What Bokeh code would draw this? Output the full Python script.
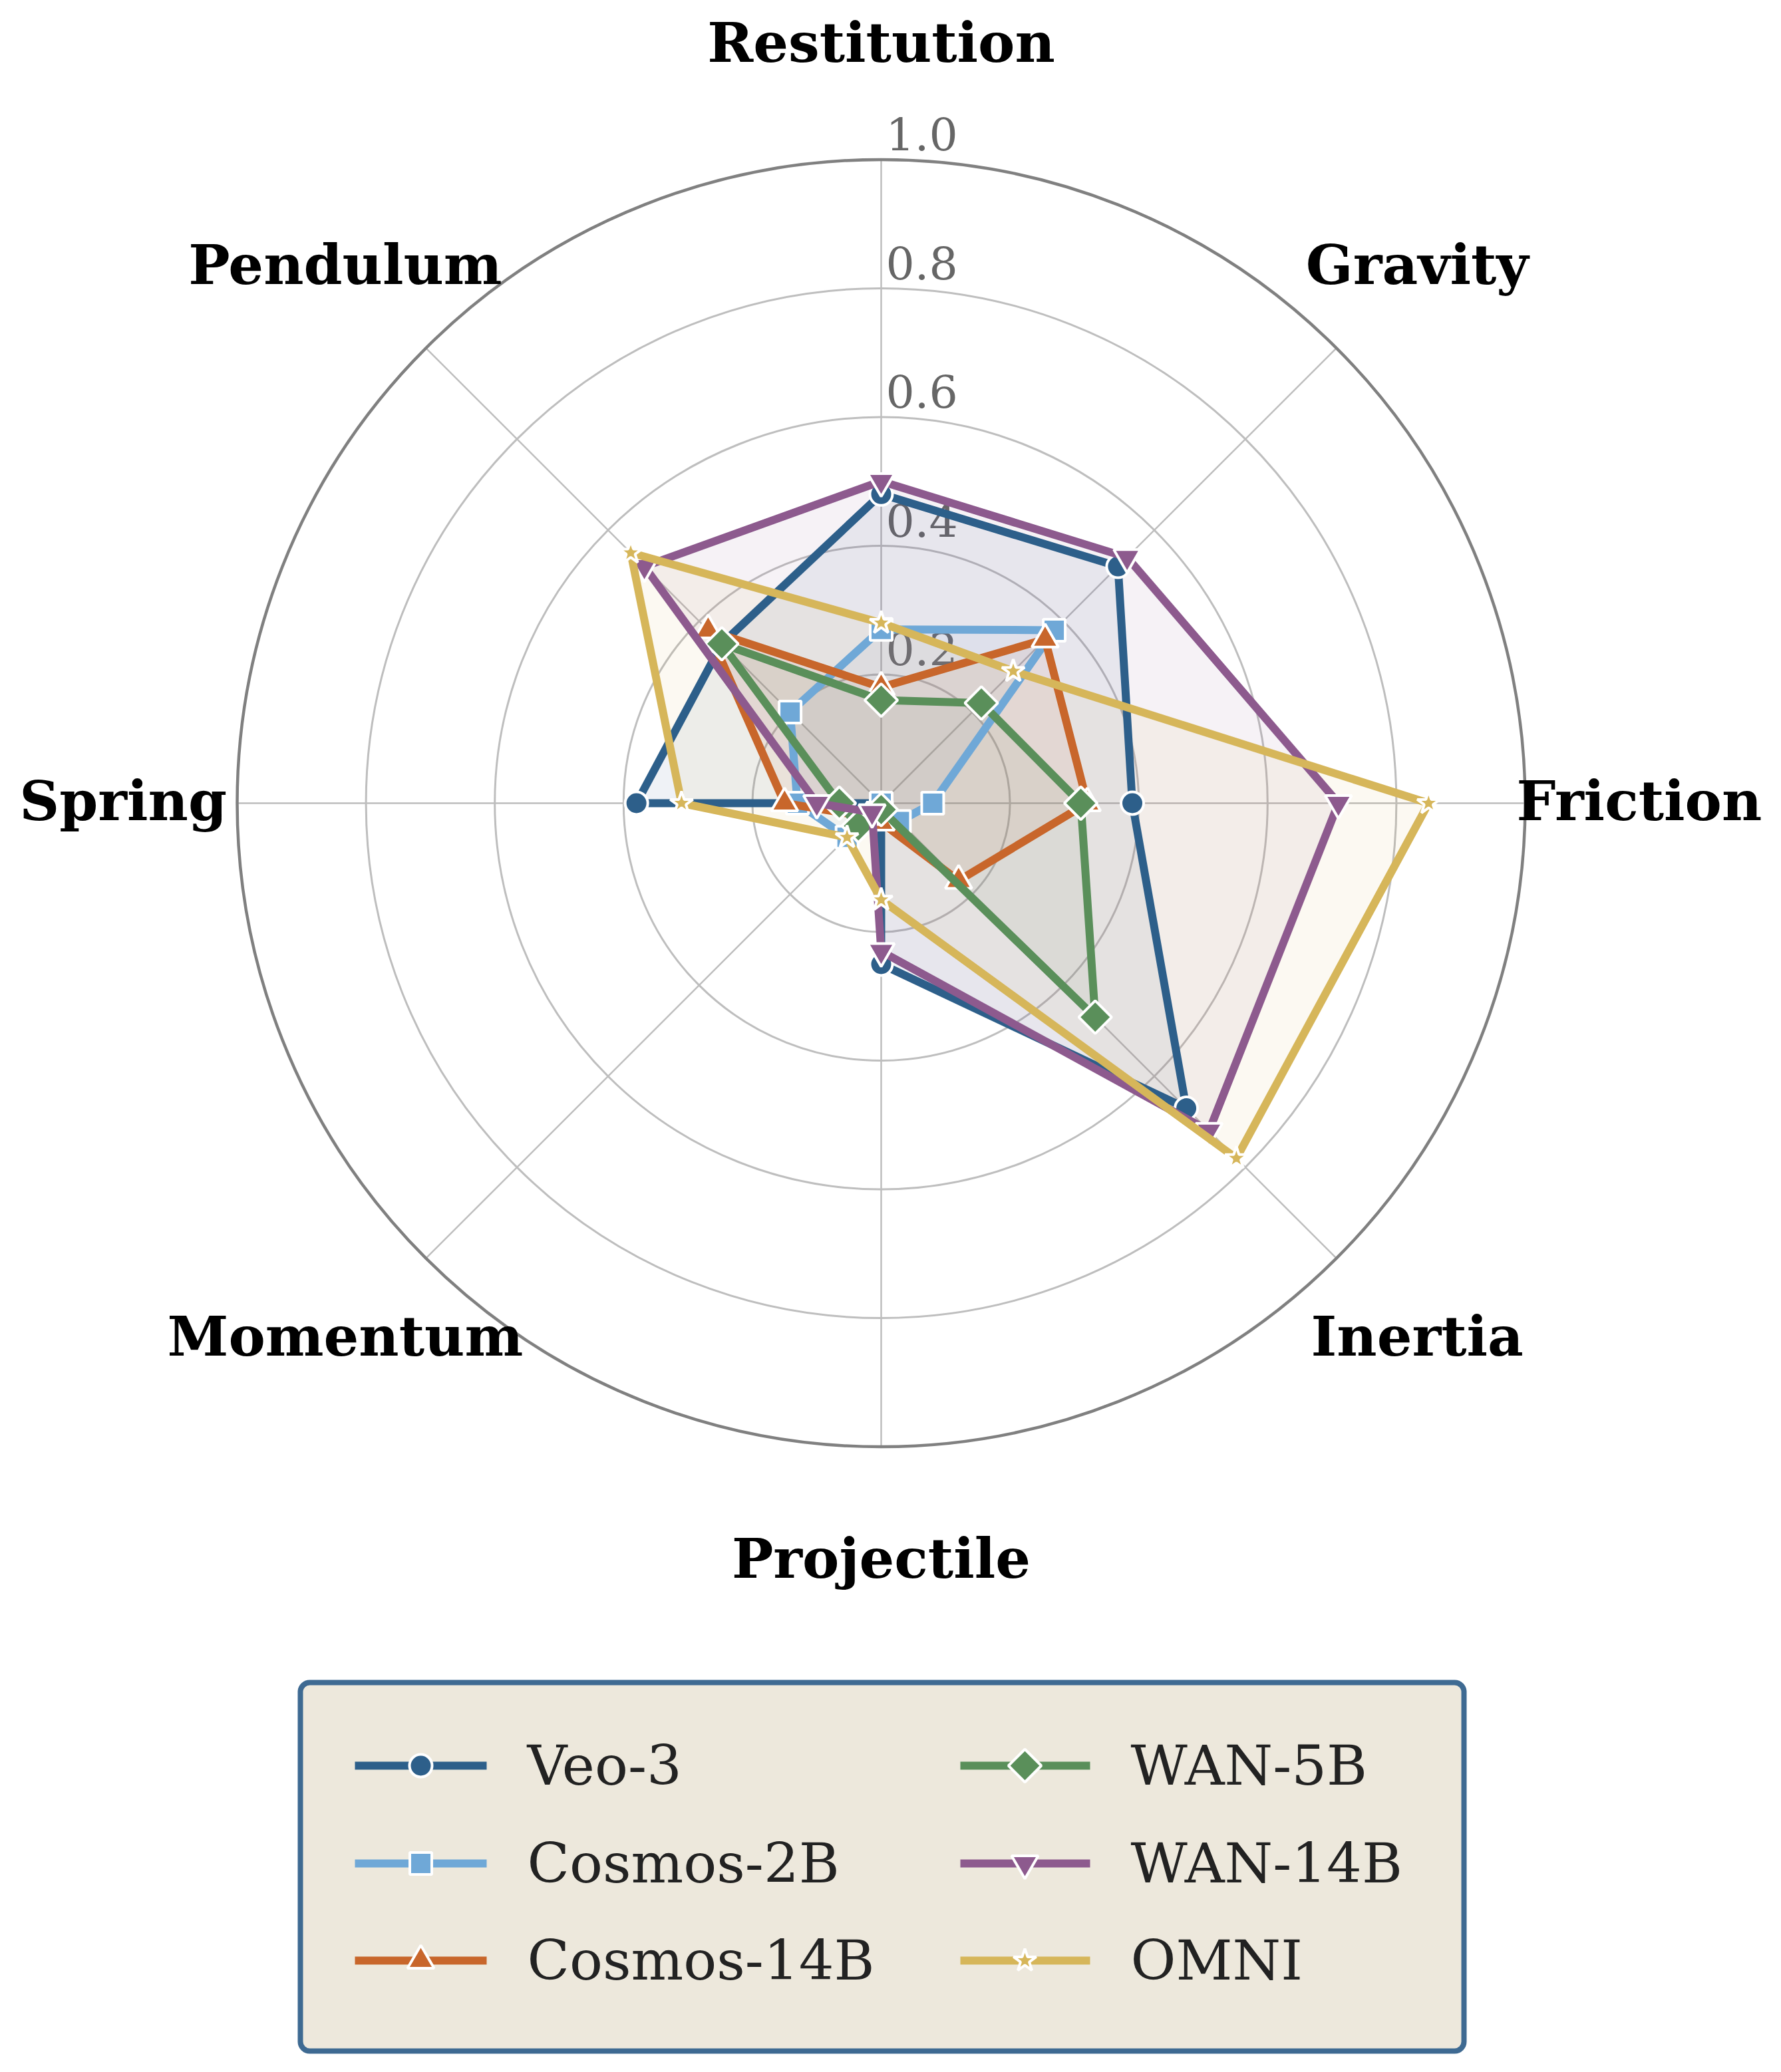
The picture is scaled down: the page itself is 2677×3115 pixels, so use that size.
import numpy as np
from bokeh.plotting import figure
from bokeh.models import Range1d, BoxAnnotation
from bokeh.core.properties import value
from bokeh.embed import file_html
from bokeh.resources import INLINE

# ---------------- data ----------------
categories = ["Restitution", "Gravity", "Friction", "Inertia",
              "Projectile", "Momentum", "Spring", "Pendulum"]
series_names = ["Veo-3", "Cosmos-2B", "Cosmos-14B", "WAN-5B", "WAN-14B", "OMNI"]
veo3 = [0.48, 0.52, 0.39, 0.67, 0.25, 0.00, 0.38, 0.35]
cosmos_2b = [0.27, 0.38, 0.08, 0.04, 0.00, 0.075, 0.13, 0.20]
cosmos_14b = [0.18, 0.36, 0.32, 0.17, 0.03, 0.03, 0.15, 0.38]
wan_5b = [0.16, 0.22, 0.31, 0.47, 0.01, 0.05, 0.065, 0.35]
wan_14b = [0.50, 0.54, 0.71, 0.72, 0.23, 0.02, 0.10, 0.52]
omni = [0.28, 0.29, 0.85, 0.78, 0.15, 0.075, 0.31, 0.55]
r_ticks = [0.2, 0.4, 0.6, 0.8, 1.0]
r_tick_labels = ["0.2", "0.4", "0.6", "0.8", "1.0"]

series_values = [veo3, cosmos_2b, cosmos_14b, wan_5b, wan_14b, omni]
colors = ["#2d5f8a", "#6fa8d7", "#c8662b", "#5a8f5a", "#8d5a8e", "#d6b65a"]
markers = ["circle", "square", "triangle", "square", "inverted_triangle", "star"]
marker_angles = [0, 0, 0, np.pi / 4, 0, 0]
marker_sizes = [34, 33, 40, 35, 40, 36]

# ---------------- geometry ----------------
W, H = 2677, 3115
S = 968.0                     # pixels per radial unit
CX, CY = 1324.0, 1207.0       # polar centre in pixels


def dx(px):
    return (px - CX) / S


def dy(py):
    return (CY - py) / S


p = figure(width=W, height=H, output_backend="svg", toolbar_location=None,
           x_axis_type=None, y_axis_type=None, min_border=0,
           outline_line_color=None,
           x_range=Range1d(-CX / S, (W - CX) / S),
           y_range=Range1d(-(H - CY) / S, CY / S))
p.background_fill_color = "white"
p.border_fill_color = "white"

n = len(categories)
theta = np.pi / 2 - np.arange(n) * 2 * np.pi / n
cos_t, sin_t = np.cos(theta), np.sin(theta)

# spokes
p.segment(x0=[0] * n, y0=[0] * n, x1=list(cos_t), y1=list(sin_t),
          line_color="#bebebe", line_width=2.5)
# rings
p.circle(x=[0] * 4, y=[0] * 4, radius=r_ticks[:-1], fill_color=None,
         line_color="#bebebe", line_width=3)
p.circle(x=[0], y=[0], radius=[r_ticks[-1]], fill_color=None,
         line_color="#808080", line_width=4.5)

# radial tick labels
p.text(x=[7 / S] * len(r_ticks), y=[r + 38 / S for r in r_ticks], text=r_tick_labels,
       text_font=value("DejaVu Serif"), text_font_size=value("68px"),
       text_color="#666666", text_align="left", text_baseline="middle")

# category labels
LR = 1.177
p.text(x=list(LR * cos_t), y=list(LR * sin_t + 4 / S), text=categories,
       text_font=value("DejaVu Serif"), text_font_size=value("83px"),
       text_font_style="bold", text_color="black",
       text_align="center", text_baseline="middle")

# series: all fills first (beneath), then lines with markers
coords = []
for vals in series_values:
    v = np.array(vals)
    coords.append((list(v * cos_t), list(v * sin_t)))

for (xs, ys), col in zip(coords, colors):
    p.patch(xs, ys, fill_color=col, fill_alpha=0.08, line_color=None)

for (xs, ys), col, mk, ang, ms in zip(coords, colors, markers, marker_angles, marker_sizes):
    p.line(xs + [xs[0]], ys + [ys[0]], line_color=col, line_width=12,
           line_join="round")
    p.scatter(xs, ys, marker=mk, angle=ang, size=ms, fill_color=col,
              line_color="white", line_width=4)

# legend (drawn by hand to match the boxed two-column layout)
box = BoxAnnotation(left=dx(451), right=dx(2200), top=dy(2529), bottom=dy(3083),
                    fill_color="#ede8dc", fill_alpha=1.0,
                    line_color="#3e6a92", line_alpha=1.0, line_width=8,
                    border_radius=14, level="underlay")
p.add_layout(box)

rows_y = [2654, 2801, 2947]
col_line = [(533, 731), (1443, 1638)]
col_marker = [632, 1540]
col_text = [792, 1699]
for i, (name, col, mk, ang, ms) in enumerate(zip(series_names, colors, markers,
                                                  marker_angles, marker_sizes)):
    c, r = i // 3, i % 3
    yy = dy(rows_y[r])
    p.line([dx(col_line[c][0]), dx(col_line[c][1])], [yy, yy], line_color=col,
           line_width=12)
    p.scatter([dx(col_marker[c])], [yy], marker=mk, angle=ang, size=ms,
              fill_color=col, line_color="white", line_width=4)
    p.text(x=[dx(col_text[c])], y=[yy], text=[name],
           text_font=value("DejaVu Serif"), text_font_size=value("83px"),
           text_color="#222222", text_align="left", text_baseline="middle")

open("out.html", "w").write(file_html(p, INLINE))
